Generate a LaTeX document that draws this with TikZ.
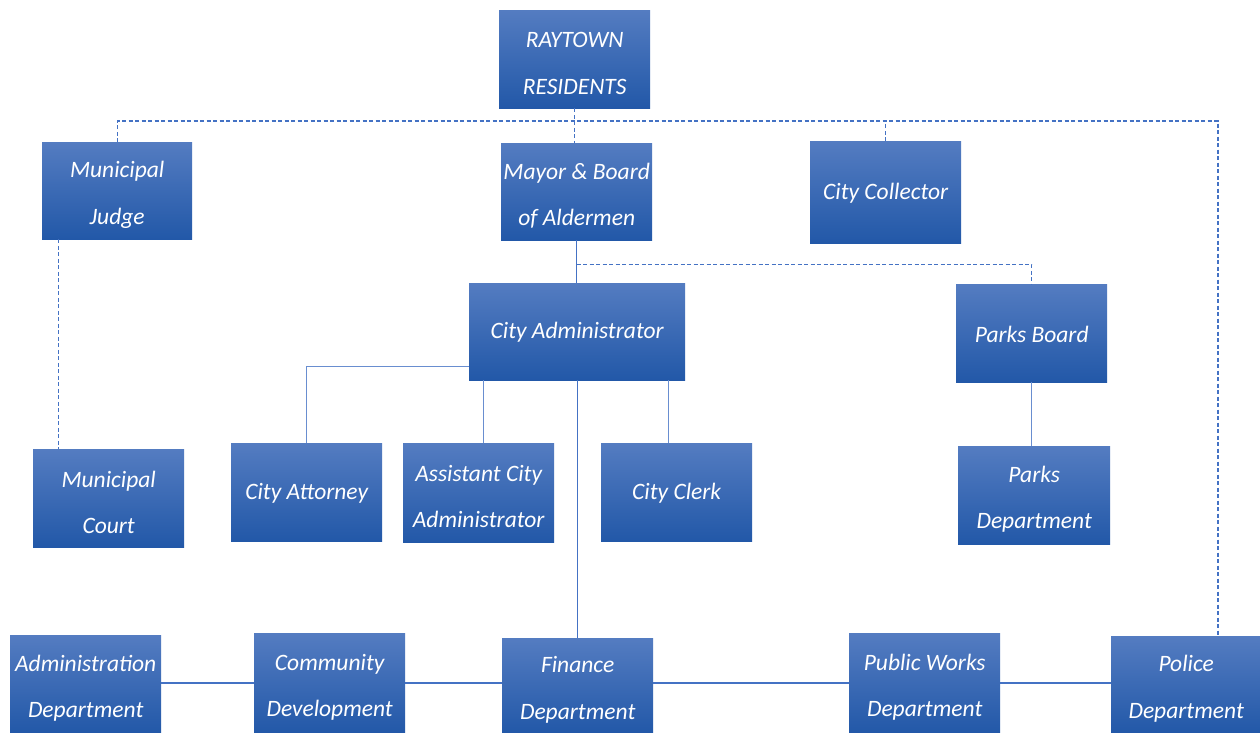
\documentclass[tikz,border=0pt]{standalone}
\usepackage{fontspec}
\setmainfont{Carlito}
\definecolor{boxtop}{RGB}{84,124,193}
\definecolor{boxbot}{RGB}{34,88,168}
\definecolor{linec}{RGB}{68,114,196}
\begin{document}
\begin{tikzpicture}[x=1pt,y=-1pt,
  box/.style={shade, top color=boxtop, bottom color=boxbot, draw=none, inner sep=0pt,
    anchor=north west, minimum width=151pt, minimum height=98pt},
  lab/.style={text=white, font=\fontsize{23.5}{46.5}\selectfont\itshape, align=center, inner sep=0pt},
  two/.style={label={[lab, yshift=-4pt]center:{#1}}},
  one/.style={label={[lab, yshift=-1pt]center:{#1}}},
  dline/.style={draw=linec, line width=1.3pt, dash pattern=on 4pt off 2.5pt},
  sline/.style={draw=linec, line width=1.3pt},
  thinline/.style={draw=linec!80, line width=1pt},
  bline/.style={draw=linec, line width=2.2pt}]
\useasboundingbox (0,0) rectangle (1260,732);
\fill[white] (0,0) rectangle (1260,732);
\coordinate (busR) at (1218,121);
\coordinate (brow) at (0,683);

\node[box, two={RAYTOWN\\RESIDENTS}] (res) at (499,10) {};
\node[box, minimum width=150pt, minimum height=97pt, two={Municipal\\Judge}] (judge) at (42,142) {};
\node[box, minimum height=97pt, two={Mayor \& Board\\of Aldermen}] (mayor) at (501,143) {};
\node[box, minimum height=102pt, one={City Collector}] (collector) at (810,141) {};
\node[box, minimum width=216pt, minimum height=97pt, one={City Administrator}] (admin) at (469,283) {};
\node[box, one={Parks Board}] (pboard) at (956,284) {};
\node[box, two={Municipal\\Court}] (court) at (33,449) {};
\node[box, one={City Attorney}] (attorney) at (231,443) {};
\node[box, minimum height=99pt, two={Assistant City\\Administrator}] (asst) at (403,443) {};
\node[box, one={City Clerk}] (clerk) at (601,443) {};
\node[box, minimum width=152pt, two={Parks\\Department}] (pdept) at (958,446) {};
\node[box, two={Administration\\Department}] (adm) at (10,635) {};
\node[box, minimum height=100pt, two={Community\\Development}] (comm) at (254,633) {};
\node[box, minimum height=95pt, two={Finance\\Department}] (finance) at (502,638) {};
\node[box, minimum height=100pt, two={Public Works\\Department}] (pw) at (849,633) {};
\node[box, minimum width=150pt, minimum height=97pt, two={Police\\Department}] (police) at (1111,636) {};

% dashed top bus
\draw[dline] (judge.north) |- (busR) -- (busR |- police.north);
\draw[dline] (res.south) -- (res.south |- mayor.north);
\draw[dline] (collector.north) -- (collector.north |- busR);
\draw[dline] ([xshift=-59pt]judge.south) -- ([xshift=-59pt]judge.south |- court.north);
% mayor to admin and parks board
\draw[sline] (mayor.south) -- (mayor.south |- admin.north);
\draw[dline] ([yshift=-24pt]mayor.south) -| (pboard.north);
% admin to staff
\draw[thinline] ([yshift=-35pt]admin.west) -| (attorney.north);
\draw[thinline] ([xshift=5pt]asst.north) -- ([xshift=5pt]asst.north |- admin.south);
\draw[thinline] ([xshift=-8pt]clerk.north) -- ([xshift=-8pt]clerk.north |- admin.south);
\draw[sline] (admin.south -| finance.north) -- (finance.north);
\draw[thinline] (pboard.south) -- (pboard.south |- pdept.north);
% bottom row
\draw[bline] (adm.east |- brow) -- (comm.west |- brow);
\draw[bline] (comm.east |- brow) -- (finance.west |- brow);
\draw[bline] (finance.east |- brow) -- (pw.west |- brow);
\draw[bline] (pw.east |- brow) -- (police.west |- brow);
\end{tikzpicture}
\end{document}
